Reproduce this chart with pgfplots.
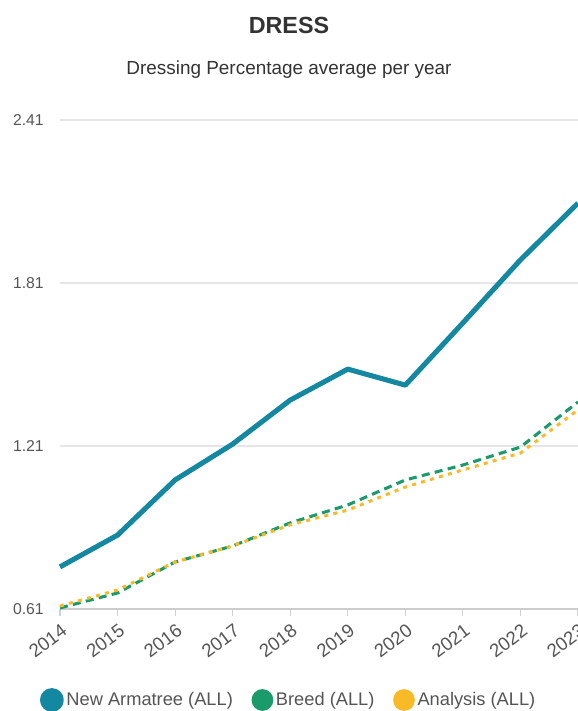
\documentclass[border=0pt]{standalone}
\usepackage{pgfplots}
\pgfplotsset{compat=1.18}
\usepackage{fontspec}
\setmainfont{Liberation Sans}
\definecolor{cteal}{HTML}{1388A0}
\definecolor{cgreen}{HTML}{1B9A6C}
\definecolor{cyellow}{HTML}{F8BA27}
\definecolor{cgrid}{HTML}{E6E6E6}
\definecolor{ctext}{HTML}{555555}
\begin{document}
\begin{tikzpicture}[x=0.75pt,y=0.75pt]
\begin{axis}[
  at={(0,0)}, anchor=south west,
  scale only axis,
  width=388.5pt, height=366.75pt,
  xmin=2014, xmax=2023, ymin=0.61, ymax=2.41,
  axis line style={draw=none},
  xtick={2014,2015,2016,2017,2018,2019,2020,2021,2022,2023},
  xticklabels={2014,2015,2016,2017,2018,2019,2020,2021,2022,2023},
  ytick={0.61,1.21,1.81,2.41},
  yticklabels={0.61,1.21,1.81,2.41},
  /pgf/number format/assume math mode=true,
  ymajorgrids, grid style={cgrid, line width=0.9pt},
  xtick pos=lower, ytick pos=left,
  tick align=outside,
  major tick length=5.25pt,
  xtick style={gray!35, line width=0.8pt},
  ytick style={draw=none},
  yticklabel style={font=\fontsize{11.8}{12}\selectfont, text=ctext, anchor=west, xshift=-33.5pt},
  xticklabel style={font=\fontsize{14}{15}\selectfont, text=ctext, rotate=37, anchor=north east, xshift=0.5pt, yshift=-1pt},
  clip=false,
  legend columns=3,
  legend style={at={(171.75pt,-68.25pt)}, anchor=center, draw=none, fill=none,
    font=\fontsize{13.7}{14}\selectfont, text=ctext,
    /tikz/every even column/.append style={column sep=12pt}},
  legend cell align=left,
  legend image code/.code={\fill[#1, solid] (2pt,0pt) circle (7pt);},
]
\draw[gray!40, line width=1.2pt] (axis cs:2014,0.61) -- (axis cs:2023,0.61);
\addplot[cteal, line width=3.8pt, line join=round] coordinates {
 (2014,0.765) (2015,0.882) (2016,1.085) (2017,1.217) (2018,1.379)
 (2019,1.493) (2020,1.434) (2021,1.663) (2022,1.895) (2023,2.104)};
\addlegendentry{New Armatree (ALL)}
\addplot[cgreen, line width=2.3pt, dash pattern=on 6pt off 4pt] coordinates {
 (2014,0.614) (2015,0.669) (2016,0.783) (2017,0.842) (2018,0.927)
 (2019,0.993) (2020,1.085) (2021,1.140) (2022,1.206) (2023,1.372)};
\addlegendentry{Breed (ALL)}
\addplot[cyellow, line width=2.3pt, dash pattern=on 3pt off 4pt] coordinates {
 (2014,0.621) (2015,0.680) (2016,0.783) (2017,0.842) (2018,0.920)
 (2019,0.974) (2020,1.059) (2021,1.122) (2022,1.184) (2023,1.343)};
\addlegendentry{Analysis (ALL)}
\end{axis}
\node[font=\fontsize{17.5}{18}\selectfont\bfseries, text=black!80] at (229,584) {DRESS};
\node[font=\fontsize{14.2}{15}\selectfont, text=black!80] at (229,539) {Dressing Percentage average per year};
\pgfresetboundingbox
\path (-60,-102) rectangle (518,609);
\end{tikzpicture}
\end{document}
